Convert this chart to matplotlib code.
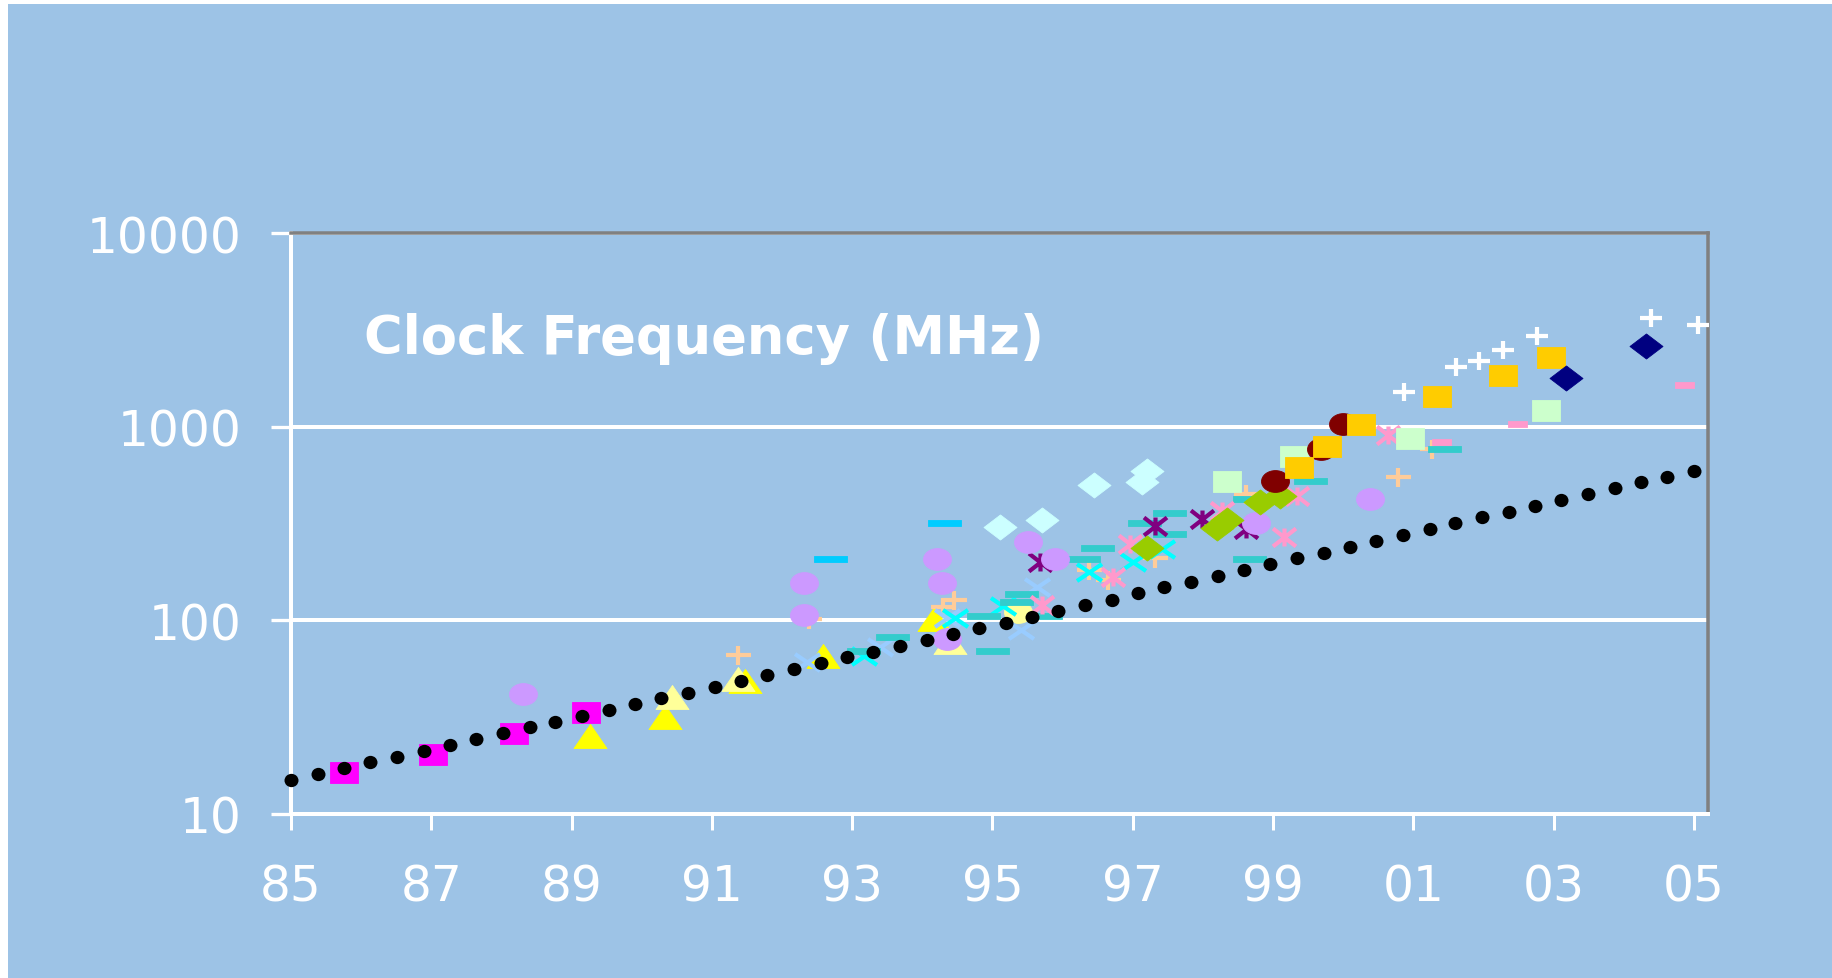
import numpy as np
import matplotlib
matplotlib.use("Agg")
import matplotlib.pyplot as plt
from matplotlib.path import Path
from matplotlib.markers import MarkerStyle
from matplotlib.patches import Rectangle
from matplotlib.ticker import FixedLocator, NullLocator

# ---------------- data ----------------
trend_x = [85.00, 85.38, 85.75, 86.13, 86.51, 86.89, 87.26, 87.64, 88.02, 88.40,
           88.77, 89.15, 89.53, 89.91, 90.28, 90.66, 91.04, 91.42, 91.79, 92.17,
           92.55, 92.92, 93.30, 93.68, 94.06, 94.43, 94.81, 95.19, 95.57, 95.94,
           96.32, 96.70, 97.08, 97.45, 97.83, 98.21, 98.58, 98.96, 99.34, 99.72,
           100.09, 100.47, 100.85, 101.23, 101.60, 101.98, 102.36, 102.74, 103.11, 103.49,
           103.87, 104.25, 104.62, 105.00]
trend_y = [15.0, 16.1, 17.2, 18.5, 19.8, 21.2, 22.7, 24.4, 26.1, 28.0,
           30.0, 32.2, 34.5, 36.9, 39.6, 42.4, 45.5, 48.7, 52.2, 56.0,
           60.0, 64.3, 68.9, 73.8, 79.1, 84.8, 90.9, 97.4, 104, 112,
           120, 128, 138, 148, 158, 170, 182, 195, 209, 224,
           240, 257, 276, 296, 317, 340, 364, 390, 418, 448,
           480, 515, 552, 591]

magenta_x = [85.75, 87.03, 88.18, 89.20]
magenta_y = [16.5, 20.4, 26.3, 33.7]
yellow_x = [89.26, 90.33, 91.47, 92.59, 94.16]
yellow_y = [25.2, 31.6, 48.8, 65.6, 101.6]
ltyellow_tri_x = [90.43, 91.37, 94.39]
ltyellow_tri_y = [40.1, 49.8, 77.3]
ltyellow_dot_x = [95.37]
ltyellow_dot_y = [110]
violet_x = [88.31, 92.31, 92.31, 94.21, 94.28, 94.35, 95.50, 95.89, 98.76, 100.38]
violet_y = [41.7, 156, 106.7, 207, 156, 80, 255, 207, 317, 423]
sky_dash_x = [92.69, 94.31]
sky_dash_y = [207, 317]
teal_dash_x = [93.16, 93.57, 94.86, 95.00, 95.33, 95.40, 95.75, 96.29, 96.49, 97.16,
               97.51, 97.51, 98.65, 98.65, 99.53, 101.43]
teal_dash_y = [69.1, 81.6, 105.8, 69.1, 124.7, 136.7, 105.8, 207, 235, 317,
               358, 278, 207, 423, 524, 767]
ltblue_x_x = [92.35, 93.40, 94.35, 95.40, 95.63]
ltblue_x_y = [60.6, 72.6, 102.4, 89.5, 148]
cyan_x_x = [93.17, 94.47, 95.15, 96.37, 97.00, 97.41]
cyan_x_y = [65.6, 102.4, 119, 178, 200, 233]
peach_x = [91.37, 92.38, 94.30, 94.45, 96.38, 96.65, 97.32, 98.62, 100.78, 101.26]
peach_y = [66.2, 101.7, 117, 128, 182, 161.5, 211, 449, 548, 767]
pink_star_x = [95.70, 96.72, 96.96, 98.27, 99.16, 99.34, 100.64]
pink_star_y = [120, 167, 248, 368, 268, 440, 906]
purple_star_x = [95.68, 97.32, 97.98, 98.62]
purple_star_y = [199.5, 308, 333, 297]
ltcyan_dia_x = [95.10, 95.71, 96.45, 97.13, 97.20]
ltcyan_dia_y = [302, 330, 501, 516, 593]
ygreen_dia_x = [97.20, 98.20, 98.35, 98.81, 99.10]
ygreen_dia_y = [235, 300, 328, 406, 440]
ltgreen_sq_x = [98.35, 99.30, 100.95, 102.89]
ltgreen_sq_y = [526, 708, 871, 1219]
darkred_x = [99.03, 99.69, 100.00]
darkred_y = [526, 767, 1033]
gold_x = [99.37, 99.77, 100.25, 101.33, 102.28, 102.96]
gold_y = [620, 798, 1033, 1445, 1853, 2296]
white_plus_x = [100.86, 101.61, 101.94, 102.28, 102.76, 104.39, 105.06]
white_plus_y = [1504, 2028, 2195, 2497, 2949, 3641, 3350]
navy_x = [103.17, 104.32]
navy_y = [1775, 2600]
pink_dash_x = [101.40, 102.48, 104.86]
pink_dash_y = [836, 1033, 1641]

xtick_vals = [85, 87, 89, 91, 93, 95, 97, 99, 101, 103, 105]
xtick_labels = ['85', '87', '89', '91', '93', '95', '97', '99', '01', '03', '05']
ytick_vals = [10, 100, 1000, 10000]
ytick_labels = ['10', '100', '1000', '10000']
title = 'Clock Frequency (MHz)'

# ---------------- marker shapes (stretched, like the reference) ----------------
def closed(verts):
    verts = list(verts) + [verts[0]]
    codes = [Path.MOVETO] + [Path.LINETO] * (len(verts) - 2) + [Path.CLOSEPOLY]
    return MarkerStyle(Path(verts, codes))

def segs(pairs):
    verts, codes = [], []
    for a, b in pairs:
        verts += [a, b]
        codes += [Path.MOVETO, Path.LINETO]
    return MarkerStyle(Path(verts, codes))

SQ = closed([(-1, -0.75), (1, -0.75), (1, 0.75), (-1, 0.75)])
TRI = closed([(-1, -0.73), (1, -0.73), (0, 0.73)])
DIA = closed([(0, -0.76), (1, 0), (0, 0.76), (-1, 0)])
DASH = closed([(-1, -0.21), (1, -0.21), (1, 0.21), (-1, 0.21)])
DASH_S = closed([(-1, -0.32), (1, -0.32), (1, 0.32), (-1, 0.32)])
uc = Path.unit_circle()
ELL = MarkerStyle(Path(uc.vertices * np.array([1.0, 0.78]), uc.codes))
DOT = MarkerStyle(Path(uc.vertices * np.array([1.0, 0.95]), uc.codes))
XM = segs([((-1, -0.68), (1, 0.68)), ((-1, 0.68), (1, -0.68))])
PLUS = segs([((-1, 0), (1, 0)), ((0, -0.76), (0, 0.76))])
STAR = segs([((-1, -0.78), (1, 0.78)), ((-1, 0.78), (1, -0.78)), ((0, -0.78), (0, 0.78))])

BLUE = '#9DC3E6'
PX = 72.0 / 100.0  # points per pixel

fig = plt.figure(figsize=(18.32, 9.79), dpi=100, facecolor='white')
fig.patches.append(Rectangle((8 / 1832, 0), 1 - 8 / 1832, 1 - 5 / 979,
                             transform=fig.transFigure, facecolor=BLUE,
                             edgecolor='none', zorder=-10))
ax = fig.add_axes([291 / 1832, 1 - 815 / 979, (1708 - 291) / 1832, (815 - 234) / 979])
ax.set_facecolor(BLUE)
ax.set_yscale('log')
ax.set_xlim(85, 105.2)
ax.set_ylim(10, 10000)


def filled(x, y, marker, size_px, color, z):
    ax.plot(x, y, linestyle='none', marker=marker, ms=size_px * PX, mfc=color,
            mec=color, mew=0.6, clip_on=False, zorder=z)


def lined(x, y, marker, size_px, color, z, lw_px=4.2):
    ax.plot(x, y, linestyle='none', marker=marker, ms=size_px * PX, mfc='none',
            mec=color, mew=lw_px * PX, clip_on=False, zorder=z)


filled(magenta_x, magenta_y, SQ, 28, '#FF00FF', 3)
filled(yellow_x, yellow_y, TRI, 33, '#FFFF00', 3)
filled(ltyellow_tri_x, ltyellow_tri_y, TRI, 33, '#FFFF99', 3.1)
filled(ltyellow_dot_x, ltyellow_dot_y, ELL, 28, '#FFFF99', 3.2)
lined(peach_x, peach_y, PLUS, 25, '#FFCC99', 3.3)
filled(sky_dash_x, sky_dash_y, DASH, 33, '#00CCFF', 3.4)
lined(ltblue_x_x, ltblue_x_y, XM, 25, '#99CCFF', 3.5)
lined(cyan_x_x, cyan_x_y, XM, 25, '#00FFFF', 3.6)
filled(teal_dash_x, teal_dash_y, DASH, 33, '#33CCCC', 3.7)
filled(ltcyan_dia_x, ltcyan_dia_y, DIA, 33, '#CCFFFF', 3.8)
lined(purple_star_x, purple_star_y, STAR, 23, '#800080', 3.9)
lined(pink_star_x, pink_star_y, STAR, 23, '#FF99CC', 4.0)
filled(violet_x, violet_y, ELL, 28, '#CC99FF', 4.1)
filled(ygreen_dia_x, ygreen_dia_y, DIA, 33, '#99CC00', 4.2)
filled(pink_dash_x, pink_dash_y, DASH_S, 19, '#FF99CC', 4.25)
filled(ltgreen_sq_x, ltgreen_sq_y, SQ, 28, '#CCFFCC', 4.3)
filled(darkred_x, darkred_y, ELL, 28, '#800000', 4.4)
filled(gold_x, gold_y, SQ, 28, '#FFCC00', 4.5)
lined(white_plus_x, white_plus_y, PLUS, 23, '#FFFFFF', 4.6)
filled(navy_x, navy_y, DIA, 33, '#000080', 4.7)
ax.plot(trend_x, trend_y, linestyle='none', marker=DOT, ms=14 * PX, mfc='black',
        mec='black', mew=0, clip_on=False, zorder=6)

# ---------------- axes styling ----------------
ax.set_axisbelow(True)
ax.yaxis.set_major_locator(FixedLocator(ytick_vals))
ax.yaxis.set_minor_locator(NullLocator())
ax.set_yticklabels(ytick_labels)
ax.set_xticks(xtick_vals)
ax.set_xticklabels(xtick_labels)
ax.grid(axis='y', color='white', linewidth=4 * PX)
ax.grid(axis='x', visible=False)

for side in ('left', 'bottom'):
    ax.spines[side].set_color('white')
    ax.spines[side].set_linewidth(4 * PX)
for side in ('top', 'right'):
    ax.spines[side].set_color('#808080')
    ax.spines[side].set_linewidth(3.5 * PX)

ax.tick_params(axis='y', which='major', direction='out', length=20 * PX, width=3.3 * PX,
               color='white', labelcolor='white', labelsize=35, pad=29 * PX)
ax.tick_params(axis='x', which='major', direction='out', length=16 * PX, width=3 * PX,
               color='white', labelcolor='white', labelsize=35, pad=32.5 * PX)
for lab in ax.get_xticklabels() + ax.get_yticklabels():
    lab.set_family('DejaVu Sans')

fig.text(364 / 1832, 1 - 354 / 979, title, fontsize=38, fontweight='bold',
         color='white', family='DejaVu Sans', ha='left', va='baseline')

fig.savefig('out.png', dpi=100, facecolor='white')
